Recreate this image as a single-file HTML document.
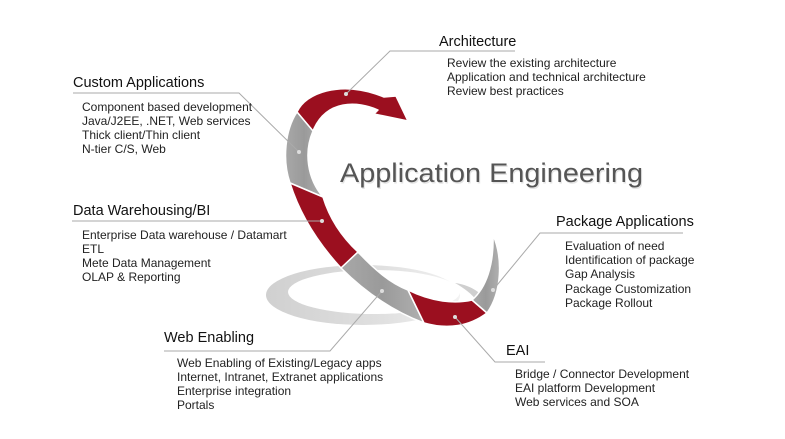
<!DOCTYPE html>
<html><head><meta charset="utf-8"><style>
html,body{margin:0;padding:0;background:#fff;}
svg{display:block;}
text{font-family:"Liberation Sans",sans-serif;}
.h{font-size:14.5px;fill:#111;}
.i{font-size:12px;fill:#222;}
</style></head><body>
<svg width="785" height="439" viewBox="0 0 785 439" xmlns="http://www.w3.org/2000/svg">
<defs>
<linearGradient id="gg" x1="0" y1="0" x2="1" y2="0">
<stop offset="0" stop-color="#a8a8a8"/><stop offset="0.5" stop-color="#9a9a9a"/><stop offset="1" stop-color="#b0b0b0"/>
</linearGradient>
<linearGradient id="rg" x1="0" y1="0" x2="1" y2="0">
<stop offset="0" stop-color="#d0d0d0"/><stop offset="0.6" stop-color="#e0e0e0"/><stop offset="1" stop-color="#f2f2f2"/>
</linearGradient>
</defs>
<!-- shadow ring -->
<ellipse cx="363" cy="295" rx="97" ry="30" fill="url(#rg)"/>
<ellipse cx="374" cy="292" rx="86" ry="22" fill="#fff"/>
<path d="M455,283 C470,285 480,292 486,300 L478,302 C472,294 464,288 455,283 Z" fill="#cfcfcf"/>
<!-- spiral segments -->
<g stroke="#fff" stroke-width="1.5" stroke-linejoin="round">
<path d="M297,112 C306,92 340,82 376,94 L384,97 L396,96 L408,121 L374,114 L378,110 C358,101 326,99 313,131 Z" fill="#9b0f1f"/>
<path d="M297,112 L313,131 C304,152 307,178 323,197 L290,183 C282,160 285,130 297,112 Z" fill="url(#gg)"/>
<path d="M290,183 L323,197 C330,220 343,238 358,252 L341,268 C318,243 300,215 290,183 Z" fill="#9b0f1f"/>
<path d="M341,268 L358,252 C375,270 390,283 408,290 L424,323 C395,312 366,293 341,268 Z" fill="url(#gg)"/>
<path d="M424,323 L408,290 C432,302 455,304 472,300 L487,313 C470,326 448,330 424,323 Z" fill="#9b0f1f"/>
<path d="M487,313 L472,300 C486,288 494,265 493,235 C503,258 502,292 487,313 Z" fill="url(#gg)"/>
</g>
<!-- connectors -->
<g stroke="#aaa" stroke-width="1" fill="none">
<polyline points="346,94 390,51 515,51"/>
<polyline points="299,152 239,93 73,93"/>
<polyline points="322,221 72,221"/>
<polyline points="493,290 540,233 683,233"/>
<polyline points="382,291 330,351 164,351"/>
<polyline points="455,317 495,362 545,362"/>
</g>
<g fill="#ddd">
<circle cx="346" cy="94" r="2"/><circle cx="299" cy="152" r="2"/><circle cx="322" cy="221" r="2"/>
<circle cx="493" cy="290" r="2"/><circle cx="382" cy="291" r="2"/><circle cx="455" cy="317" r="2"/>
</g>
<!-- title -->
<text x="341" y="183.5" font-size="27" fill="#e4e4e4" textLength="303" lengthAdjust="spacingAndGlyphs">Application Engineering</text>
<text x="340" y="182" font-size="27" fill="#555" textLength="303" lengthAdjust="spacingAndGlyphs">Application Engineering</text>
<!-- labels -->
<text class="h" x="439" y="46">Architecture</text>
<text class="i" x="447" y="67">Review the existing architecture</text>
<text class="i" x="447" y="81">Application and technical architecture</text>
<text class="i" x="447" y="95">Review best practices</text>

<text class="h" x="73" y="87">Custom Applications</text>
<text class="i" x="82" y="111">Component based development</text>
<text class="i" x="82" y="125">Java/J2EE, .NET, Web services</text>
<text class="i" x="82" y="139">Thick client/Thin client</text>
<text class="i" x="82" y="153">N-tier C/S, Web</text>

<text class="h" x="73" y="215">Data Warehousing/BI</text>
<text class="i" x="82" y="239">Enterprise Data warehouse / Datamart</text>
<text class="i" x="82" y="253">ETL</text>
<text class="i" x="82" y="267">Mete Data Management</text>
<text class="i" x="82" y="281">OLAP &amp; Reporting</text>

<text class="h" x="556" y="226">Package Applications</text>
<text class="i" x="565" y="250">Evaluation of need</text>
<text class="i" x="565" y="264">Identification of package</text>
<text class="i" x="565" y="278">Gap Analysis</text>
<text class="i" x="565" y="293">Package Customization</text>
<text class="i" x="565" y="307">Package Rollout</text>

<text class="h" x="164" y="342">Web Enabling</text>
<text class="i" x="177" y="367">Web Enabling of Existing/Legacy apps</text>
<text class="i" x="177" y="381">Internet, Intranet, Extranet applications</text>
<text class="i" x="177" y="395">Enterprise integration</text>
<text class="i" x="177" y="409">Portals</text>

<text class="h" x="506" y="355">EAI</text>
<text class="i" x="515" y="378">Bridge / Connector Development</text>
<text class="i" x="515" y="392">EAI platform Development</text>
<text class="i" x="515" y="406">Web services and SOA</text>
</svg>
</body></html>
